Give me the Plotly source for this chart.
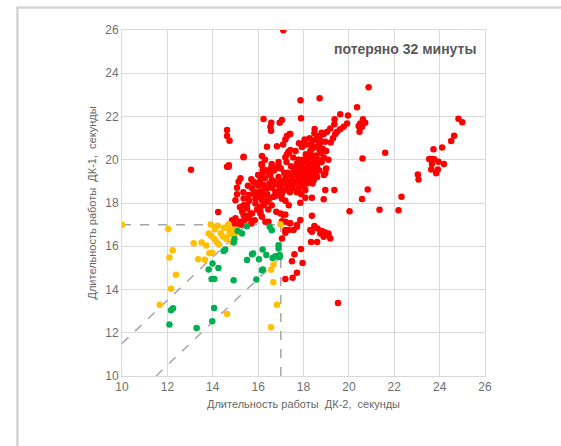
import plotly.graph_objects as go

# ---------------- data ----------------
red_x = [17.11, 17.87, 18.71, 20.87, 20.36,
         16.24, 16.58, 16.54, 16.57, 16.95, 17.05, 17.89,
         14.63, 14.63, 14.74, 14.71, 14.63, 13.04, 15.36, 14.24,
         16.39, 16.17, 16.83, 17.10, 17.20, 17.27, 17.39, 17.34, 17.27, 17.20, 17.80,
         19.62, 19.96, 19.37, 20.62, 20.72, 20.50, 20.43, 20.58, 19.92, 19.77, 19.62, 19.36, 19.18, 19.04,
         18.49, 18.48, 18.89, 18.71, 18.60, 18.27, 18.05, 18.77, 18.96, 19.40, 19.48, 20.47, 18.00, 17.93,
         18.33, 18.42, 18.71, 18.93, 18.33, 18.15, 18.52, 17.42, 17.42, 20.60, 21.60,
         24.83, 25.00, 24.64, 24.51, 24.11, 23.73, 23.54, 23.67, 23.76, 23.95, 24.19, 23.66, 23.63, 23.92,
         23.85, 23.04, 23.07, 22.32, 21.35, 22.19,
         18.96, 18.96, 19.36, 18.89, 18.08, 18.37, 17.86, 20.83, 20.58, 20.03, 18.37, 17.86, 17.71, 17.42,
         18.48, 18.30, 18.62, 18.81, 18.96, 19.10, 17.78, 17.71, 18.15, 18.08, 17.78,
         17.89, 17.60, 17.49, 17.96, 17.71, 17.52, 17.20, 19.52, 18.33, 18.60, 18.37, 18.74, 18.89, 19.10,
         19.18, 17.05, 17.20, 17.34, 17.20, 17.12, 17.71, 16.46, 16.10, 15.73, 15.58, 15.36, 15.00, 14.85,
         15.36, 14.70, 15.22, 15.14, 15.07, 15.07, 15.00, 15.36, 15.36, 15.51, 15.78, 15.73, 15.80, 15.58,
         15.88, 15.88, 15.66, 15.51, 15.22, 14.92, 15.00, 16.17, 16.32, 16.17, 16.10, 16.24, 16.39, 16.10,
         16.24, 16.17, 16.39, 16.10, 16.17, 16.32, 16.54, 16.61, 16.76, 16.90, 16.83, 16.98, 16.76, 17.05,
         16.68, 17.20, 17.34, 17.42, 17.56, 17.71, 17.49, 16.98, 17.20, 17.05, 17.39, 17.56, 17.20, 17.78, 17.86,
         17.30, 17.40, 17.50, 17.60, 17.60, 17.70, 17.75, 17.80, 17.85, 17.90, 17.90, 18.00, 18.00, 18.05,
         18.10, 18.15, 18.20, 18.20, 18.25, 18.30, 18.35, 18.40, 18.40, 18.45, 18.50, 18.55, 18.60, 18.65,
         18.70, 18.75, 18.80, 18.85, 18.90, 17.95, 18.10, 18.30, 18.50, 18.70, 17.50, 17.30, 17.10, 17.00,
         16.90, 16.80, 16.70, 16.95, 17.20, 17.40, 16.60, 16.50, 16.40, 16.30, 16.20, 16.05, 16.00, 15.90,
         15.95, 16.10, 16.25, 16.45, 16.50, 16.60, 16.70, 16.80, 15.60, 15.50, 15.45, 15.30, 15.25, 15.40,
         15.60, 15.70, 15.85, 15.20, 15.35, 15.55, 15.70, 15.85, 16.00, 16.20, 16.30, 16.45, 16.55, 16.15,
         16.30, 16.60, 16.70, 16.90, 17.00, 17.15, 17.25, 17.45, 17.55, 17.35, 17.65, 17.80, 17.95, 18.15,
         18.40, 18.60, 18.80, 19.00, 19.10, 19.00, 19.20, 19.30, 18.90, 18.60, 18.40, 18.20, 18.00, 17.70,
         17.90, 18.45, 16.85, 17.05, 17.20, 17.35, 18.05, 18.25, 17.65, 17.45, 18.55, 18.35, 18.15, 17.85]
red_y = [25.99, 22.75, 22.84, 23.35, 22.43,
         21.88, 21.71, 21.53, 21.34, 21.71, 21.84, 21.92,
         21.37, 21.10, 20.88, 19.75, 19.68, 19.54, 20.12, 17.58,
         20.60, 20.17, 20.63, 20.71, 20.94, 21.10, 21.19, 20.37, 20.26, 20.11, 20.76,
         22.10, 22.05, 21.87, 21.87, 21.71, 21.68, 21.56, 21.53, 21.68, 21.53, 21.41, 21.64, 21.45, 21.30,
         21.42, 21.22, 21.19, 21.04, 20.91, 20.99, 20.94, 20.83, 20.83, 21.19, 21.30, 21.30, 20.76, 20.60,
         20.68, 20.53, 20.45, 20.42, 20.22, 20.14, 20.14, 21.19, 20.45, 20.06, 20.32,
         21.90, 21.73, 21.11, 20.87, 20.57, 20.48, 20.03, 20.03, 20.02, 19.91, 19.80, 19.80, 19.55, 19.55,
         19.38, 19.32, 19.09, 18.29, 17.69, 17.67,
         19.37, 18.60, 18.60, 18.17, 18.24, 18.24, 18.01, 18.63, 18.18, 17.62, 17.41, 17.21, 16.90, 17.06,
         16.94, 16.75, 16.82, 16.70, 16.64, 16.59, 19.99, 19.60, 18.90, 18.60, 18.68,
         15.87, 15.63, 15.31, 15.23, 14.77, 14.54, 14.49, 13.38, 16.20, 16.20, 16.67, 16.59, 16.44, 16.51,
         16.36, 16.36, 16.62, 16.75, 17.13, 17.44, 16.98, 17.13, 17.52, 17.52, 17.36, 17.44, 17.29, 17.20,
         20.14, 19.68, 19.14, 18.98, 18.70, 18.40, 18.13, 18.21, 17.90, 17.75, 18.98, 18.68, 18.44, 18.37,
         18.21, 17.98, 17.52, 17.36, 17.13, 17.13, 16.98, 19.75, 19.52, 19.29, 19.06, 18.83, 18.68, 18.52,
         18.37, 18.13, 18.06, 17.83, 17.36, 17.13, 19.29, 19.06, 19.60, 19.75, 18.90, 18.75, 18.52, 18.44,
         18.29, 19.14, 18.90, 19.29, 19.60, 19.83, 18.68, 17.52, 17.47, 17.16, 17.06, 16.75, 16.75, 18.60, 18.90,
         19.40, 19.00, 19.20, 19.50, 18.90, 19.30, 19.70, 19.10, 19.45, 19.80, 19.20, 19.60, 19.35, 19.90,
         19.50, 19.20, 19.70, 20.00, 19.45, 19.80, 19.60, 20.10, 19.30, 19.85, 19.55, 20.20, 19.75, 20.00,
         19.50, 20.30, 19.90, 20.50, 20.10, 20.00, 20.25, 20.40, 20.60, 20.70, 18.70, 18.80, 18.90, 19.00,
         19.20, 18.85, 19.00, 18.60, 18.60, 18.50, 18.70, 18.90, 18.40, 18.10, 18.55, 18.30, 18.80, 18.50,
         17.70, 17.60, 17.90, 17.70, 18.20, 17.90, 18.30, 17.60, 18.10, 17.90, 17.40, 17.60, 17.00, 17.20,
         17.30, 17.05, 17.20, 17.80, 18.50, 18.80, 19.10, 18.95, 19.30, 19.50, 19.15, 19.40, 19.60, 19.80,
         20.00, 19.80, 19.50, 19.90, 19.60, 19.40, 19.90, 19.70, 20.10, 20.30, 20.40, 20.00, 20.60, 20.70,
         20.90, 21.10, 21.25, 20.40, 20.00, 19.60, 20.80, 21.00, 19.30, 19.20, 18.90, 18.95, 18.80, 18.50,
         18.40, 19.05, 18.35, 18.20, 18.10, 17.90, 19.10, 19.00, 19.00, 19.35, 19.30, 19.15, 19.55, 19.65]

yellow_x = [10.00, 12.04, 12.23, 12.09, 12.38, 12.16, 11.66, 14.63, 16.57, 16.83, 16.67, 16.57, 16.68,
            16.98, 13.16, 13.36, 13.65, 13.51, 13.72, 13.91, 14.22, 14.09, 13.82, 13.94, 14.07, 14.17,
            14.28, 13.85, 13.98, 14.60, 14.69, 14.72, 14.74, 14.88, 14.98, 15.00, 14.85, 14.45, 14.35, 14.50]
yellow_y = [17.00, 16.80, 15.82, 15.48, 14.68, 14.03, 13.29, 12.87, 12.25, 13.30, 14.34, 14.91, 15.14,
            17.02, 16.14, 15.40, 15.37, 16.17, 16.03, 17.01, 16.95, 16.79, 16.59, 16.47, 16.33, 16.20,
            16.08, 15.68, 15.69, 16.34, 17.02, 16.79, 16.56, 16.59, 16.77, 16.59, 16.20, 16.45, 16.60, 16.85]

green_x = [12.16, 12.25, 12.09, 13.29, 14.06, 13.98, 13.82, 13.95, 14.07, 13.99, 14.25, 14.48, 14.92,
           14.93, 14.96, 15.29, 15.51, 15.92, 15.51, 15.73, 16.04, 16.20, 16.21, 16.36, 16.51, 16.60,
           16.64, 16.76, 16.84, 16.90, 16.90, 16.95, 16.95, 15.10, 14.55, 15.78, 16.17]
green_y = [13.04, 13.13, 12.38, 12.22, 13.15, 12.53, 14.92, 14.48, 14.48, 15.20, 14.99, 15.78, 14.43,
           16.17, 16.33, 16.59, 16.93, 14.46, 15.36, 15.63, 15.40, 15.85, 14.92, 15.59, 16.90, 16.74,
           15.46, 15.54, 15.54, 16.05, 15.90, 15.59, 15.50, 16.70, 15.85, 15.67, 14.89]

threshold = 17.0        # dashed limit lines
diag_offset = 1.5       # diagonal band half-width
axis_min, axis_max = 10, 26
tick_vals = [10, 12, 14, 16, 18, 20, 22, 24, 26]

x_title = "Длительность работы  ДК-2,  секунды"
y_title = "Длительность работы  ДК-1,  секунды"
note = "потеряно 32 минуты"

# ---------------- figure ----------------
fig = go.Figure()
dash_style = dict(color="#a6a6a6", width=1.5, dash="dash")

fig.add_trace(go.Scatter(x=[axis_min, threshold], y=[threshold, threshold],
                         mode="lines", line=dash_style, hoverinfo="skip"))
fig.add_trace(go.Scatter(x=[threshold, threshold], y=[axis_min, threshold],
                         mode="lines", line=dash_style, hoverinfo="skip"))
fig.add_trace(go.Scatter(x=[axis_min, threshold - diag_offset],
                         y=[axis_min + diag_offset, threshold],
                         mode="lines", line=dash_style, hoverinfo="skip"))
fig.add_trace(go.Scatter(x=[axis_min + diag_offset, threshold],
                         y=[axis_min, threshold - diag_offset],
                         mode="lines", line=dash_style, hoverinfo="skip"))

fig.add_trace(go.Scatter(x=red_x, y=red_y, mode="markers",
                         marker=dict(color="#ff0000", size=6.5)))
fig.add_trace(go.Scatter(x=yellow_x, y=yellow_y, mode="markers",
                         marker=dict(color="#ffc000", size=6.5)))
fig.add_trace(go.Scatter(x=green_x, y=green_y, mode="markers",
                         marker=dict(color="#00b050", size=6.5)))

axis_common = dict(range=[axis_min, axis_max], tickvals=tick_vals,
                   showgrid=True, gridcolor="#d9d9d9", gridwidth=1,
                   zeroline=False, showline=True, linecolor="#d9d9d9", linewidth=1,
                   mirror=True, ticks="",
                   tickfont=dict(family="Liberation Sans, Arial, sans-serif", size=12, color="#6e6e6e"))

fig.update_xaxes(**axis_common,
                 title=dict(text=x_title, standoff=6,
                            font=dict(family="Liberation Sans, Arial, sans-serif", size=11, color="#666666")))
fig.update_yaxes(**axis_common,
                 title=dict(text=y_title, standoff=6,
                            font=dict(family="Liberation Sans, Arial, sans-serif", size=11, color="#666666")))

fig.add_annotation(x=25.7, y=25.1, xref="x", yref="y", text=f"<b>{note}</b>",
                   showarrow=False, xanchor="right", yanchor="middle",
                   font=dict(family="Liberation Sans, Arial, sans-serif", size=14, color="#595959"))

# outer light frame of the chart area
fig.add_shape(type="rect", xref="paper", yref="paper",
              x0=-0.288, x1=1.4, y0=-0.4, y1=1.065,
              line=dict(color="#d4d4d4", width=2.5), layer="below")

fig.update_layout(width=561, height=446, showlegend=False,
                  plot_bgcolor="white", paper_bgcolor="white",
                  margin=dict(l=122, r=76, t=30, b=70))

fig.write_html("out.html", config={"displayModeBar": False},
               post_script="document.body.style.margin='0';document.body.style.overflow='hidden';")
